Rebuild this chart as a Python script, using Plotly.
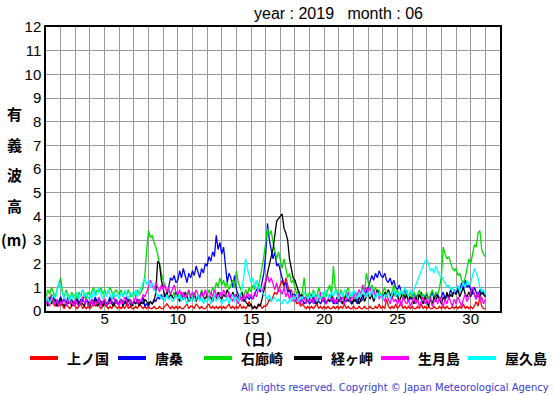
import numpy as np
import plotly.graph_objects as go

# ---- data: significant wave height (m), 3-hourly samples from June 1 00h to July 1 00h ----
start_day = 1.0
step_day = 1.0 / 8.0

uenokuni = [
 0.3,0.6,0.4,0.7,0.3,0.2,0.4,0.2, 0.3,0.2,0.1,0.3,0.2,0.1,0.2,0.3, 0.2,0.1,0.2,0.3,0.1,0.2,0.1,0.2,
 0.1,0.2,0.3,0.2,0.5,0.2,0.1,0.2, 0.3,0.2,0.1,0.2,0.1,0.3,0.2,0.1, 0.2,0.1,0.2,0.1,0.3,0.1,0.2,0.1,
 0.1,0.2,0.1,0.3,0.2,0.1,0.2,0.1, 0.2,0.1,0.1,0.2,0.1,0.1,0.2,0.1, 0.1,0.2,0.3,0.2,0.1,0.2,0.1,0.2,
 0.1,0.2,0.1,0.1,0.2,0.3,0.1,0.2, 0.2,0.1,0.3,0.2,0.1,0.2,0.1,0.1, 0.2,0.3,0.1,0.2,0.1,0.2,0.1,0.2,
 0.1,0.2,0.1,0.2,0.3,0.1,0.2,0.1, 0.2,0.1,0.3,0.1,0.2,0.1,0.2,0.4, 0.2,0.1,0.2,0.1,0.2,0.3,0.1,0.2,
 0.2,0.3,0.5,0.4,0.6,0.8,0.7,0.9, 1.1,1.3,1.0,1.4,1.1,0.8,0.9,0.6, 0.5,0.3,0.4,0.2,0.3,0.2,0.1,0.2,
 0.1,0.2,0.1,0.2,0.3,0.1,0.2,0.1, 0.2,0.1,0.2,0.1,0.1,0.2,0.1,0.2, 0.1,0.2,0.1,0.3,0.1,0.2,0.1,0.1,
 0.2,0.1,0.1,0.2,0.1,0.1,0.2,0.1, 0.1,0.2,0.1,0.1,0.2,0.1,0.3,0.1, 0.2,0.1,0.5,0.2,0.1,0.2,0.1,0.3,
 0.1,0.2,0.4,0.1,0.2,0.1,0.2,0.1, 0.2,0.1,0.1,0.2,0.1,0.3,0.1,0.2, 0.1,0.2,0.1,0.1,0.2,0.1,0.1,0.2,
 0.1,0.2,0.1,0.2,0.1,0.1,0.2,0.1, 0.2,0.1,0.2,0.1,0.3,0.1,0.2,0.1, 0.2,0.1,0.2,0.4,0.2,0.6,0.2,0.1,
 0.1]

karakuwa = [
 0.5,0.3,0.6,0.4,0.7,0.5,0.3,0.4, 0.6,0.4,0.5,0.3,0.6,0.4,0.5,0.3, 0.4,0.6,0.3,0.5,0.4,0.7,0.5,0.4,
 0.3,0.5,0.4,0.6,0.3,0.5,0.4,0.3, 0.5,0.3,0.4,0.6,0.4,0.3,0.5,0.4, 0.3,0.5,0.4,0.3,0.6,0.4,0.5,0.3,
 0.4,0.3,0.5,0.4,0.3,0.6,0.2,0.3, 0.2,0.4,0.3,0.5,0.4,0.6,0.5,0.7, 0.5,0.7,0.6,1.0,1.4,1.3,1.5,1.2,
 1.3,1.7,1.4,1.8,1.5,1.2,1.6,1.4, 1.7,1.5,1.9,1.6,1.4,1.8,1.6,2.0, 1.9,2.3,2.1,2.5,2.3,3.2,2.6,2.9,
 2.4,2.7,1.8,1.2,1.6,1.4,1.0,1.5, 0.9,0.7,0.5,0.6,0.4,0.5,0.6,0.5, 0.6,0.5,0.7,0.9,1.0,0.8,1.2,1.6,
 2.4,3.7,3.0,2.6,2.2,2.5,1.9,2.0, 1.7,1.5,1.1,1.2,0.8,0.9,0.6,0.7, 0.7,0.5,0.6,0.4,0.5,0.3,0.4,0.5,
 0.3,0.4,0.6,0.3,0.5,0.4,0.3,0.5, 0.4,0.3,0.5,0.4,0.6,0.3,0.4,0.3, 0.5,0.4,0.3,0.5,0.4,0.6,0.4,0.3,
 0.4,0.5,0.3,0.6,0.4,0.5,0.7,0.8, 1.0,1.3,1.5,1.3,1.6,1.4,1.7,1.5, 1.4,1.6,1.3,1.2,1.4,1.1,1.3,1.0,
 0.9,1.1,0.8,0.7,0.9,0.6,0.7,0.5, 0.6,0.8,0.5,0.7,0.6,0.8,0.5,0.6, 0.7,0.5,0.6,0.8,0.5,0.7,0.6,0.5,
 0.6,0.8,0.5,0.7,0.6,0.9,0.7,0.8, 0.7,1.0,0.8,1.2,0.9,1.3,1.0,1.1, 0.9,0.7,1.0,0.8,0.6,0.9,0.7,0.8,
 0.6]

irozaki = [
 0.6,0.9,0.7,1.0,0.8,0.6,0.9,1.2, 1.4,0.8,0.6,0.9,0.7,0.5,0.8,0.6, 0.7,0.5,0.8,0.6,0.9,0.7,0.5,0.8,
 0.6,0.8,1.0,0.7,0.9,0.8,1.0,0.7, 0.9,0.7,0.8,1.0,0.8,0.6,0.9,0.8, 0.7,0.9,0.6,0.8,0.7,0.9,0.6,0.7,
 0.8,0.6,0.9,0.7,0.8,1.0,1.5,2.6, 3.4,3.1,3.2,2.9,2.7,2.4,1.9,1.6, 1.3,1.0,0.8,0.9,0.7,0.6,0.8,0.6,
 0.7,0.6,0.8,0.5,0.7,0.6,0.8,0.5, 0.6,0.8,0.5,0.7,0.6,0.9,0.7,0.8, 0.6,0.9,0.7,1.0,0.8,1.2,1.0,1.4,
 1.1,1.3,1.0,1.2,0.9,1.1,1.3,1.0, 1.7,1.2,1.0,0.8,0.6,0.9,0.7,1.0, 0.8,1.1,0.9,1.3,1.0,1.4,1.8,2.3,
 2.9,3.5,3.2,3.4,2.9,2.6,2.2,2.5, 2.1,1.8,2.2,1.7,1.4,1.6,1.2,1.3, 1.0,0.7,0.9,0.6,0.8,1.4,0.7,0.6,
 0.8,0.5,0.9,0.7,0.6,1.0,0.7,0.5, 0.8,0.6,0.9,1.1,0.7,1.9,1.0,0.8, 0.6,0.9,0.7,0.5,0.8,1.0,0.7,0.6,
 0.8,0.5,0.7,0.9,0.6,1.1,0.8,1.6, 1.2,0.9,1.1,0.8,1.0,0.7,0.9,0.6, 0.8,1.0,0.7,0.9,0.6,0.8,1.1,0.7,
 0.9,0.6,0.8,0.5,0.7,0.9,0.6,0.8, 0.5,0.8,0.6,0.7,0.9,0.5,0.7,0.6, 0.8,0.5,0.7,0.9,0.6,0.8,0.7,1.0,
 1.5,2.7,2.4,2.2,2.3,2.0,1.8,1.7, 1.8,1.5,1.6,1.3,1.2,1.4,1.9,2.2, 2.0,2.4,2.8,2.7,3.3,3.4,2.6,2.4,
 2.3]

kyogamisaki = [
 0.4,0.2,0.5,0.3,0.6,0.4,0.2,0.3, 0.5,0.3,0.2,0.4,0.3,0.5,0.2,0.4, 0.3,0.5,0.2,0.4,0.3,0.2,0.5,0.3,
 0.2,0.4,0.3,0.5,0.2,0.3,0.4,0.2, 0.4,0.2,0.3,0.5,0.3,0.2,0.4,0.3, 0.3,0.5,0.2,0.4,0.3,0.5,0.3,0.2,
 0.4,0.3,0.5,0.2,0.4,0.3,0.5,0.4, 0.3,0.4,0.3,0.4,0.8,2.1,2.0,1.3, 0.9,0.6,0.8,0.5,0.7,0.6,0.5,0.8,
 0.6,0.4,0.7,0.5,0.8,0.6,0.4,0.6, 0.5,0.7,0.4,0.6,0.5,0.8,0.6,0.5, 0.7,0.5,0.6,0.4,0.7,0.5,0.8,0.6,
 0.5,0.7,0.6,0.9,0.7,0.5,0.8,0.6, 0.7,0.5,0.6,0.8,0.5,0.4,0.3,0.2, 0.3,0.1,0.2,0.1,0.3,0.2,0.5,0.8,
 1.2,1.6,2.0,2.3,2.6,3.2,3.8,3.9, 4.0,4.1,3.5,3.3,3.0,2.2,1.8,1.4, 1.3,1.0,0.8,0.6,0.7,0.5,0.6,0.4,
 0.5,0.7,0.4,0.6,0.3,0.5,0.7,0.4, 0.6,0.3,0.5,0.4,0.7,0.5,0.3,0.6, 0.4,0.6,0.3,0.5,0.7,0.4,0.6,0.3,
 0.5,0.4,0.6,0.3,0.5,0.7,0.4,0.6, 0.8,0.5,0.7,0.4,0.6,0.9,0.6,0.7, 0.5,0.8,0.6,0.9,0.7,0.5,0.8,0.6,
 0.7,0.4,0.6,0.8,0.5,0.7,0.4,0.6, 0.5,0.3,0.6,0.4,0.7,0.5,0.3,0.6, 0.4,0.2,0.5,0.3,0.6,0.4,0.7,0.5,
 0.3,0.6,0.4,0.8,0.5,0.7,0.6,0.9, 0.7,0.9,0.6,0.8,1.0,0.7,0.6,0.8, 0.6,0.9,0.7,0.5,0.8,0.6,0.9,0.7,
 0.6]

ikitsukishima = [
 0.3,0.5,0.2,0.6,0.4,0.3,0.5,0.2, 0.4,0.3,0.6,0.2,0.5,0.3,0.4,0.2, 0.5,0.3,0.2,0.4,0.6,0.3,0.5,0.2,
 0.3,0.5,0.2,0.4,0.3,0.6,0.2,0.4, 0.5,0.2,0.4,0.3,0.5,0.6,0.3,0.4, 0.2,0.5,0.3,0.6,0.4,0.2,0.5,0.3,
 0.4,0.6,0.3,0.5,0.4,0.7,0.6,0.8, 1.0,1.3,1.1,0.9,1.2,1.0,0.8,1.1, 0.9,1.1,0.8,1.0,0.7,0.9,1.1,0.8,
 0.7,0.9,0.6,0.8,0.5,0.7,0.9,0.6, 0.8,0.6,0.9,0.7,0.5,0.8,0.6,0.9, 0.7,0.5,0.8,0.6,0.9,0.7,0.5,0.8,
 0.6,0.9,0.7,0.5,0.8,0.6,0.4,0.7, 0.5,0.3,0.6,0.4,0.7,0.5,0.8,0.6, 0.7,0.5,0.8,0.6,0.9,1.0,0.8,1.1,
 1.3,1.5,1.2,1.4,1.1,0.9,1.2,0.8, 0.9,0.7,1.0,0.6,0.8,0.5,0.7,0.4, 0.6,0.4,0.7,0.3,0.5,0.6,0.3,0.5,
 0.4,0.6,0.3,0.7,0.4,0.5,0.8,0.4, 0.6,0.3,0.5,0.7,0.4,0.6,0.3,0.5, 0.7,0.4,0.6,0.3,0.5,0.8,0.4,0.6,
 0.5,0.8,0.6,0.9,0.7,1.1,0.8,1.0, 0.8,1.0,0.7,0.9,0.6,0.8,0.5,0.7, 0.6,0.4,0.7,0.5,0.3,0.6,0.4,0.5,
 0.3,0.5,0.2,0.6,0.4,0.3,0.5,0.2, 0.4,0.6,0.3,0.5,0.2,0.4,0.6,0.3, 0.5,0.3,0.6,0.2,0.4,0.5,0.3,0.6,
 0.4,0.2,0.5,0.3,0.6,0.4,0.2,0.5, 0.3,0.6,0.4,0.2,0.5,0.7,0.4,0.6, 0.8,1.0,0.7,0.5,0.8,0.4,0.6,0.3,
 0.5]

yakushima = [
 0.4,0.6,0.3,0.5,0.7,0.5,0.9,1.2, 1.0,0.7,0.5,0.8,0.6,0.4,0.7,0.5, 0.6,0.8,0.5,0.7,0.9,0.6,0.8,0.5,
 0.7,0.5,0.9,0.6,0.8,1.0,0.7,0.5, 0.8,0.6,0.9,0.7,0.5,0.8,0.6,0.7, 0.5,0.8,0.6,0.9,0.7,0.5,0.8,0.6,
 0.7,0.9,0.6,0.8,1.0,1.2,1.4,1.1, 1.3,1.0,1.2,0.9,0.8,0.6,0.7,0.5, 0.6,0.4,0.7,0.5,0.6,0.4,0.5,0.7,
 0.5,0.7,0.4,0.6,0.5,0.3,0.6,0.4, 0.6,0.4,0.5,0.7,0.4,0.6,0.3,0.5, 0.4,0.6,0.3,0.5,0.7,0.4,0.6,0.5,
 0.3,0.5,0.4,0.6,0.3,0.5,0.7,0.4, 0.6,0.4,0.7,0.9,1.4,2.2,1.8,1.5, 1.2,1.4,1.0,1.3,0.9,1.1,0.8,0.7,
 0.6,0.5,0.7,0.4,0.5,0.6,0.4,0.5, 0.4,0.3,0.5,0.4,0.3,0.5,0.4,0.6, 0.5,0.7,0.4,0.6,0.5,0.8,0.6,0.5,
 0.7,0.5,0.8,0.6,0.4,0.7,0.5,0.8, 0.6,0.9,0.7,0.5,0.8,0.6,0.9,0.7, 0.5,0.8,0.6,0.9,0.7,0.5,0.8,0.6,
 0.9,0.7,0.5,0.8,0.6,0.9,0.7,0.6, 0.8,0.6,0.9,0.7,0.5,0.8,0.6,0.7, 0.5,0.7,0.6,0.8,0.5,0.7,0.9,0.6,
 0.8,0.6,0.9,0.7,1.0,0.8,0.6,0.9, 0.7,0.9,1.1,1.3,1.5,1.7,1.9,2.1, 2.2,1.9,1.7,1.8,1.6,1.9,1.7,1.5,
 1.5,1.3,1.2,1.0,1.1,0.9,1.0,0.8, 0.9,1.1,0.8,1.0,1.2,1.0,1.3,1.1, 1.2,1.5,1.8,1.6,1.4,1.0,0.8,0.9,
 0.7]

station_names = ["上ノ国", "唐桑", "石廊崎", "経ヶ岬", "生月島", "屋久島"]
station_colors = ["#ff0000", "#0000ff", "#00dd00", "#000000", "#ff00ff", "#00ffff"]
series = [uenokuni, karakuwa, irozaki, kyogamisaki, ikitsukishima, yakushima]

y_ticks = list(range(0, 13))
x_ticks = [5, 10, 15, 20, 25, 30]
y_title_chars = ["有", "義", "波", "高", "(m)"]
title_text = "year : 2019\u00a0\u00a0\u00a0month : 06"
x_title = "（日）"
copyright_text = "All rights reserved. Copyright © Japan Meteorological Agency"

# ---- figure ----
W, H = 555, 395
ML, MR, MT, MB = 46, 55, 27, 84
PW, PH = W - ML - MR, H - MT - MB

def px2x(p):
    return (p - ML) / PW

def py2y(p):
    return (H - MB - p) / PH

fig = go.Figure()
for name, color, vals in zip(station_names, station_colors, series):
    t = start_day + step_day * np.arange(len(vals))
    fig.add_trace(go.Scatter(x=t, y=vals, mode="lines", name=name,
                             line=dict(color=color, width=1.3),
                             showlegend=False, hoverinfo="skip"))

grid = "#9a9a9a"
fig.update_layout(
    width=W, height=H,
    margin=dict(l=ML, r=MR, t=MT, b=MB, autoexpand=False),
    paper_bgcolor="white", plot_bgcolor="white",
    font=dict(family="Liberation Sans, Arial, sans-serif", size=15, color="black"),
    showlegend=False,
    xaxis=dict(range=[1, 32], tickvals=x_ticks, ticktext=[str(v) for v in x_ticks],
               showgrid=True, gridcolor=grid, gridwidth=1,
               minor=dict(tick0=1, dtick=1, showgrid=True, gridcolor=grid, gridwidth=1),
               showline=True, linecolor="black", linewidth=1.5, mirror=True,
               ticks="", ticklabelstandoff=-7, zeroline=False, tickfont=dict(size=15)),
    yaxis=dict(range=[0, 12], tickvals=y_ticks, ticktext=[str(v) for v in y_ticks],
               showgrid=True, gridcolor=grid, gridwidth=1,
               showline=True, linecolor="black", linewidth=1.5, mirror=True,
               ticks="", zeroline=False, tickfont=dict(size=15)),
)

annotations = [
    dict(text=title_text, x=px2x(338), y=py2y(14), xref="paper", yref="paper",
         showarrow=False, xanchor="center", yanchor="middle",
         font=dict(family="Liberation Sans, Arial", size=16, color="black")),
    dict(text=x_title, x=px2x(258), y=py2y(338), xref="paper", yref="paper",
         showarrow=False, xanchor="center", yanchor="middle",
         font=dict(family="Noto Sans CJK JP", size=15, color="black", weight="bold")),
    dict(text=copyright_text, x=px2x(551), y=py2y(387), xref="paper", yref="paper",
         showarrow=False, xanchor="right", yanchor="middle",
         font=dict(family="DejaVu Sans", size=10, color="#3a3ad8")),
]
for ch, ypix in zip(y_title_chars, [113, 144, 174, 205, 239]):
    annotations.append(dict(text=ch, x=px2x(14), y=py2y(ypix), xref="paper", yref="paper",
                            showarrow=False, xanchor="center", yanchor="middle",
                            font=dict(family="Noto Sans CJK JP", size=15, color="black", weight="bold")))

# legend drawn below the plot: a short thick line and the station name for each series
legend_line_starts = [30, 118, 204, 294, 381, 468]
legend_y = 358
shapes = []
for name, color, lx in zip(station_names, station_colors, legend_line_starts):
    shapes.append(dict(type="line", xref="paper", yref="paper",
                       x0=px2x(lx), x1=px2x(lx + 28), y0=py2y(legend_y), y1=py2y(legend_y),
                       line=dict(color=color, width=4)))
    annotations.append(dict(text=name, x=px2x(lx + 35), y=py2y(legend_y), xref="paper", yref="paper",
                            showarrow=False, xanchor="left", yanchor="middle",
                            font=dict(family="Noto Sans CJK JP", size=14, color="black", weight="bold")))
fig.update_layout(annotations=annotations, shapes=shapes)

fig.write_html("out.html", config={"displayModeBar": False},
               post_script="document.body.style.margin='0';document.body.style.padding='0';")
